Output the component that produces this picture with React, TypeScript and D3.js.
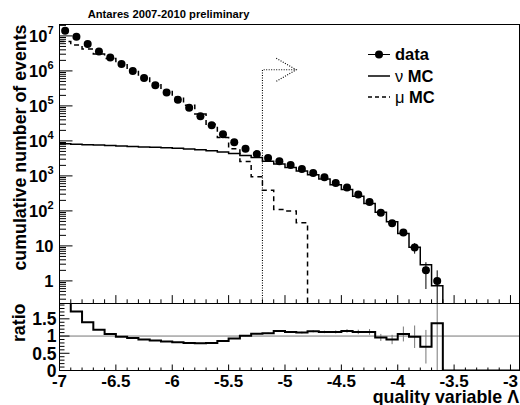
import React from "react";
import * as d3 from "d3";

// ---- data ----
const lambdaCenters = [-6.95, -6.85, -6.75, -6.65, -6.55, -6.45, -6.35, -6.25, -6.15, -6.05, -5.95, -5.85, -5.75, -5.65, -5.55, -5.45, -5.35, -5.25, -5.15, -5.05, -4.95, -4.85, -4.75, -4.65, -4.55, -4.45, -4.35, -4.25, -4.15, -4.05, -3.95, -3.85, -3.75, -3.65];
const binWidth = 0.1;
const dataCounts = [1.4e7, 9.4e6, 5.9e6, 3.6e6, 2.4e6, 1.58e6, 1.0e6, 6.3e5, 3.9e5, 2.4e5, 1.5e5, 8.9e4, 5.1e4, 2.8e4, 1.55e4, 9100, 6000, 4200, 3270, 2630, 2060, 1580, 1220, 918, 631, 467, 294, 181, 88, 44, 24, 9, 2, 1];
const nuMC = [8300, 8050, 7800, 7600, 7400, 7150, 6950, 6750, 6550, 6350, 6150, 5900, 5550, 5200, 4800, 4350, 3850, 3350, 2640, 2180, 1740, 1390, 1070, 820, 563, 406, 262, 162, 92, 49, 22.6, 9.2, 2.9, 0.73];
const muMC = [6.9e6, 5.5e6, 4.2e6, 3.05e6, 2.26e6, 1.6e6, 1.06e6, 7.0e5, 4.45e5, 2.8e5, 1.77e5, 1.05e5, 5.9e4, 3.0e4, 1.25e4, 6000, 2600, 950, 390, 110, 100, 46, 0, 0, 0, 0, 0, 0, 0, 0, 0, 0, 0, 0];
const ratioValues = [2.1, 1.71, 1.40, 1.18, 1.06, 0.98, 0.94, 0.90, 0.87, 0.84, 0.82, 0.80, 0.79, 0.80, 0.86, 0.93, 1.01, 1.07, 1.08, 1.15, 1.12, 1.10, 1.14, 1.12, 1.12, 1.15, 1.12, 1.12, 0.96, 0.90, 1.06, 0.98, 0.69, 1.37];

const xTickLabels = ["-7", "-6.5", "-6", "-5.5", "-5", "-4.5", "-4", "-3.5", "-3"];
const xTickValues = [-7, -6.5, -6, -5.5, -5, -4.5, -4, -3.5, -3];
const yDecades = [0, 1, 2, 3, 4, 5, 6, 7];
const ratioTickValues = [0, 0.5, 1, 1.5];
const ratioTickLabels = ["0", "0.5", "1", "1.5"];

const cutLambda = -5.2;
const cutArrowEnd = -4.9;
const cutArrowLevel = 1.08e6;

const titleText = "Antares 2007-2010 preliminary";
const xTitle = "quality variable Λ";
const yTitle = "cumulative number of events";
const ratioTitle = "ratio";

// ---- layout ----
const W = 520, H = 405;
const L = 59.5, R = 519.5;
const mainTop = 24.5, mainBot = 303.5, ratioBot = 370.5;
const FONT = "'Liberation Sans', Arial, Helvetica, sans-serif";

export default function App() {
  const x = d3.scaleLinear().domain([-7, -2.92]).range([L, R]);
  const y = d3.scaleLog().domain([Math.pow(10, -0.646), Math.pow(10, 7.326)]).range([mainBot, mainTop]);
  const yr2 = d3.scaleLinear().domain([0, 1.945]).range([ratioBot, mainBot]);

  const below = mainBot + 20;
  const yv = (v: number) => (v > 0 ? y(v) : below);

  const stepPath = (vals: number[], fy: (v: number) => number, tail?: number) => {
    const p = d3.path();
    const e0 = lambdaCenters[0] - binWidth / 2;
    p.moveTo(x(e0), fy(vals[0]));
    vals.forEach((v, i) => {
      const lo = lambdaCenters[i] - binWidth / 2;
      const hi = lambdaCenters[i] + binWidth / 2;
      if (i > 0) p.lineTo(x(lo), fy(v));
      p.lineTo(x(hi), fy(v));
    });
    const lastHi = lambdaCenters[lambdaCenters.length - 1] + binWidth / 2;
    if (tail !== undefined) {
      p.lineTo(x(lastHi), tail);
      p.lineTo(R + 5, tail);
    }
    return p.toString();
  };

  const nuPath = stepPath(nuMC, yv, below);
  const muPath = stepPath(muMC, yv, below);
  const ratioPath = stepPath(ratioValues, (v) => yr2(v), yr2(0));

  const minorX = d3.range(0, 41).map((k) => -7 + k * 0.1).filter((v) => v <= -2.92 + 1e-9);
  const isMajorX = (v: number) => Math.abs(v * 2 - Math.round(v * 2)) < 1e-6;
  const logTicks: { v: number; major: boolean }[] = [];
  for (let n = -1; n <= 7; n++) {
    for (let m = 1; m <= 9; m++) {
      const v = m * Math.pow(10, n);
      const [d0, d1] = y.domain();
      if (v >= d0 && v <= d1) logTicks.push({ v, major: m === 1 });
    }
  }
  const ratioMinor = d3.range(0, 20).map((k) => k * 0.1);

  const xCut = x(cutLambda);
  const xArrow = x(cutArrowEnd);
  const yCut = y(cutArrowLevel);

  return (
    <svg width={W} height={H} style={{ position: "absolute", left: 0, top: 0, background: "#fff" }} fontFamily={FONT}>
      <defs>
        <clipPath id="mainClip">
          <rect x={L} y={mainTop} width={R - L} height={mainBot - mainTop} />
        </clipPath>
        <clipPath id="ratioClip">
          <rect x={L} y={mainBot} width={R - L} height={ratioBot - mainBot} />
        </clipPath>
      </defs>
      <rect x={0} y={0} width={W} height={H} fill="#fff" />

      <text x={87.7} y={18} fontSize={11.2} fontWeight="bold" fill="#000">{titleText}</text>

      <g clipPath="url(#mainClip)">
        <path d={nuPath} fill="none" stroke="#000" strokeWidth={1.5} />
        <path d={muPath} fill="none" stroke="#000" strokeWidth={1.5} strokeDasharray="5,4" />
        {lambdaCenters.map((c, i) => {
          const n = dataCounts[i];
          const s = Math.sqrt(n);
          return (
            <line key={"e" + i} x1={x(c)} x2={x(c)} y1={yv(n + s)} y2={yv(n - s)} stroke="#000" strokeWidth={1} />
          );
        })}
        {lambdaCenters.map((c, i) => (
          <circle key={"p" + i} cx={x(c)} cy={y(dataCounts[i])} r={4} fill="#000" />
        ))}
        <path
          d={`M${xCut},${mainBot}V${yCut}H${xArrow}M${xArrow - 20},${yCut - 11.5}L${xArrow},${yCut}L${xArrow - 20},${yCut + 11.5}`}
          fill="none" stroke="#000" strokeWidth={1.1} strokeDasharray="1,1.5"
        />
      </g>
      <rect x={L} y={mainTop} width={R - L} height={mainBot - mainTop} fill="none" stroke="#000" strokeWidth={1} />
      {logTicks.map((t, i) => (
        <line key={"ly" + i} x1={L} x2={L + (t.major ? 13 : 6.5)} y1={y(t.v)} y2={y(t.v)} stroke="#000" strokeWidth={1} />
      ))}
      {yDecades.map((d) => {
        const ty = y(Math.pow(10, d));
        if (d === 0) return <text key={"yl" + d} x={53.5} y={ty + 6} textAnchor="end" fontSize={16.5} fontWeight="bold">1</text>;
        if (d === 1) return <text key={"yl" + d} x={53.5} y={ty + 6} textAnchor="end" fontSize={16.5} fontWeight="bold">10</text>;
        return (
          <text key={"yl" + d} x={53.5} y={ty + 6} textAnchor="end" fontSize={16.5} fontWeight="bold">
            10<tspan dy={-8} fontSize={11}>{d}</tspan>
          </text>
        );
      })}
      {minorX.map((v, i) => (
        <line key={"mx" + i} x1={x(v)} x2={x(v)} y1={mainBot} y2={mainBot - (isMajorX(v) ? 8.4 : 4.2)} stroke="#000" strokeWidth={1} />
      ))}

      {/* legend */}
      <line x1={368} x2={390} y1={54.5} y2={54.5} stroke="#000" strokeWidth={1} />
      <circle cx={379} cy={54.5} r={4} fill="#000" />
      <text x={395} y={60.2} fontSize={16.5} fontWeight="bold">data</text>
      <line x1={368} x2={390} y1={76} y2={76} stroke="#000" strokeWidth={1.5} />
      <text x={395} y={81.7} fontSize={16.5}>ν<tspan fontWeight="bold"> MC</tspan></text>
      <line x1={368} x2={390} y1={97} y2={97} stroke="#000" strokeWidth={1.5} strokeDasharray="4,3" />
      <text x={395} y={102.5} fontSize={16.5}>μ<tspan fontWeight="bold"> MC</tspan></text>

      {/* ratio panel */}
      <line x1={L} x2={R} y1={yr2(1)} y2={yr2(1)} stroke="#777" strokeWidth={1} />
      <g clipPath="url(#ratioClip)">
        {lambdaCenters.map((c, i) => {
          const n = dataCounts[i];
          const r = ratioValues[i];
          const e = r / Math.sqrt(n);
          return <line key={"re" + i} x1={x(c)} x2={x(c)} y1={yr2(r + e)} y2={yr2(r - e)} stroke="#777" strokeWidth={1} />;
        })}
        <path d={ratioPath} fill="none" stroke="#000" strokeWidth={2} />
      </g>
      <rect x={L} y={mainBot} width={R - L} height={ratioBot - mainBot} fill="none" stroke="#000" strokeWidth={1} />
      {ratioMinor.map((v, i) => {
        const major = Math.abs(v * 2 - Math.round(v * 2)) < 1e-6;
        return <line key={"ry" + i} x1={L} x2={L + (major ? 10 : 5)} y1={yr2(v)} y2={yr2(v)} stroke="#000" strokeWidth={1} />;
      })}
      {ratioTickValues.map((v, i) => (
        <text key={"rl" + i} x={56.5} y={yr2(v) + 6.3} textAnchor="end" fontSize={17.5} fontWeight="bold">{ratioTickLabels[i]}</text>
      ))}
      {minorX.map((v, i) => (
        <line key={"rx" + i} x1={x(v)} x2={x(v)} y1={ratioBot} y2={ratioBot - (isMajorX(v) ? 6 : 3)} stroke="#000" strokeWidth={1} />
      ))}
      {xTickValues.map((v, i) => (
        <text key={"xl" + i} x={x(v)} y={386.5} textAnchor="middle" fontSize={17} fontWeight="bold">{xTickLabels[i]}</text>
      ))}

      <text x={519} y={402.5} textAnchor="end" fontSize={17.8} fontWeight="bold">{xTitle}</text>
      <text transform={`translate(25.5,${mainTop}) rotate(-90)`} textAnchor="end" fontSize={17.8} fontWeight="bold">{yTitle}</text>
      <text transform={`translate(25,${mainBot}) rotate(-90)`} textAnchor="end" fontSize={17.8} fontWeight="bold">{ratioTitle}</text>
    </svg>
  );
}
